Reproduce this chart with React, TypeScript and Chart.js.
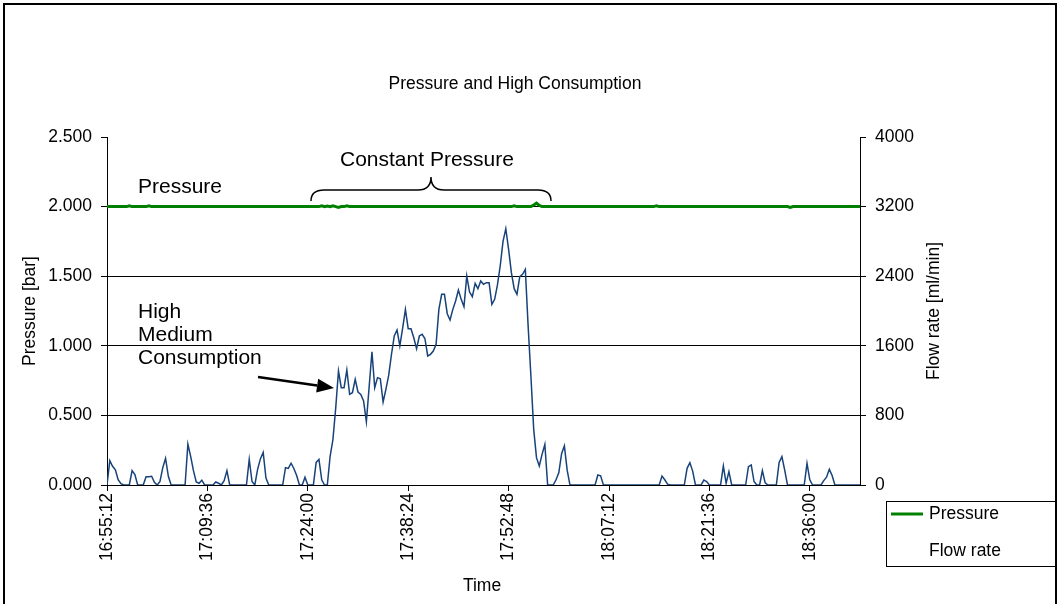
import { useEffect, useRef } from 'react';
import { Chart, registerables } from 'chart.js';

Chart.register(...registerables);

const FONT = '"Liberation Sans", Arial, Helvetica, sans-serif';

const TITLE = 'Pressure and High Consumption';
const X_TITLE = 'Time';
const Y_LEFT_TITLE = 'Pressure [bar]';
const Y_RIGHT_TITLE = 'Flow rate [ml/min]';

// one sample every 24 s, starting 16:55:12
const SAMPLE_SECONDS = 24;
const SAMPLES_PER_TICK = 36;
const X_TICK_LABELS = ['16:55:12', '17:09:36', '17:24:00', '17:38:24', '17:52:48', '18:07:12', '18:21:36', '18:36:00'];
const X_MAX_SAMPLE = 270;

const PRESSURE_TICKS = [0, 0.5, 1, 1.5, 2, 2.5];
const FLOW_TICKS = [0, 800, 1600, 2400, 3200, 4000];

// Flow rate [ml/min]
const FLOW: number[] = [
  0, 280, 215, 175, 60, 15, 0, 0, 0, 165,
  120, 0, 0, 0, 96, 96, 100, 30, 0, 40,
  200, 305, 100, 0, 0, 0, 0, 0, 0, 470,
  330, 165, 35, 20, 55, 0, 0, 0, 0, 35,
  20, 0, 50, 165, 0, 0, 0, 0, 0, 0,
  0, 295, 40, 0, 180, 300, 375, 80, 0, 0,
  0, 0, 0, 0, 200, 190, 250, 190, 110, 0,
  0, 90, 0, 0, 0, 260, 295, 60, 0, 0,
  330, 520, 880, 1310, 1119, 1119, 1322, 1042, 1061, 1215,
  1069, 1042, 966, 728, 1130, 1532, 1119, 1234, 1222, 954,
  1100, 1260, 1500, 1713, 1782, 1598, 1800, 2019, 1797, 1797,
  1693, 1567, 1713, 1732, 1682, 1483, 1502, 1540, 1617, 2019,
  2192, 2192, 1969, 1897, 2019, 2115, 2241, 2134, 2050, 2402,
  2218, 2165, 2318, 2257, 2345, 2307, 2326, 2326, 2077, 2134,
  2300, 2520, 2800, 2946, 2709, 2441, 2257, 2192, 2395, 2421,
  2479, 1828, 1253, 640, 314, 218, 352, 467, 0, 0,
  0, 60, 140, 360, 450, 170, 0, 0, 0, 0,
  0, 0, 0, 0, 0, 0, 115, 105, 0, 0,
  0, 0, 0, 0, 0, 0, 0, 0, 0, 0,
  0, 0, 0, 0, 0, 0, 0, 0, 0, 103,
  60, 10, 0, 0, 0, 0, 0, 0, 192, 257,
  160, 0, 0, 0, 57, 40, 0, 0, 0, 0,
  0, 218, 20, 153, 0, 0, 0, 0, 0, 0,
  211, 230, 40, 0, 0, 165, 25, 0, 0, 0,
  0, 260, 326, 172, 0, 0, 0, 0, 0, 0,
  0, 249, 60, 0, 0, 0, 0, 50, 90, 180,
  110, 0, 0, 0, 0, 0, 0, 0, 0, 0,
  0,
];

// Pressure [bar]
const PRESSURE: number[] = [
  2, 2, 2, 2, 2, 2, 2, 2, 2.006, 2,
  2, 2, 2, 2, 2, 2.006, 2, 2, 2, 2,
  2, 2, 2, 2, 2, 2, 2, 2, 2, 2,
  2, 2, 2, 2, 2, 2, 2, 2, 2, 2,
  2, 2, 2, 2, 2, 2, 2, 2, 2, 2,
  2, 2, 2, 2, 2, 2, 2, 2, 2, 2,
  2, 2, 2, 2, 2, 2, 2, 2, 2, 2,
  2, 2, 2, 2, 2, 2, 2, 2.006, 2, 2.004,
  2, 2.006, 2, 1.994, 2, 2, 2.006, 2, 2, 2,
  2, 2, 2, 2, 2, 2, 2, 2, 2, 2,
  2, 2, 2, 2, 2, 2, 2, 2, 2, 2,
  2, 2, 2, 2, 2, 2, 2, 2, 2, 2,
  2, 2, 2, 2, 2, 2, 2, 2, 2, 2,
  2, 2, 2, 2, 2, 2, 2, 2, 2, 2,
  2, 2, 2, 2, 2, 2, 2.005, 2, 2, 2,
  2, 2, 2, 2.012, 2.025, 2.008, 2, 2, 2, 2,
  2, 2, 2, 2, 2, 2, 2, 2, 2, 2,
  2, 2, 2, 2, 2, 2, 2, 2, 2, 2,
  2, 2, 2, 2, 2, 2, 2, 2, 2, 2,
  2, 2, 2, 2, 2, 2, 2, 2.006, 2, 2,
  2, 2, 2, 2, 2, 2, 2, 2, 2, 2,
  2, 2, 2, 2, 2, 2, 2, 2, 2, 2,
  2, 2, 2, 2, 2, 2, 2, 2, 2, 2,
  2, 2, 2, 2, 2, 2, 2, 2, 2, 2,
  2, 2, 2, 2, 2, 1.994, 2, 2, 2, 2,
  2, 2, 2, 2, 2, 2, 2, 2, 2, 2,
  2, 2, 2, 2, 2, 2, 2, 2, 2, 2,
  2,
];

const PRESSURE_COLOR = '#008000';
const FLOW_COLOR = '#17427a';

const annotationPlugin = {
  id: 'annotations',
  afterDraw(chart: any) {
    const ctx: CanvasRenderingContext2D = chart.ctx;
    ctx.save();
    // outer frame
    ctx.strokeStyle = '#000';
    ctx.lineWidth = 2;
    ctx.strokeRect(4, 4, 1052, 720);

    ctx.fillStyle = '#000';
    ctx.font = `17.5px ${FONT}`;
    ctx.textAlign = 'center';
    ctx.textBaseline = 'middle';
    ctx.fillText(TITLE, 515, 84);
    ctx.fillText(X_TITLE, 482, 586);

    ctx.save();
    ctx.translate(30, 311);
    ctx.rotate(-Math.PI / 2);
    ctx.fillText(Y_LEFT_TITLE, 0, 0);
    ctx.restore();

    ctx.save();
    ctx.translate(934, 311);
    ctx.rotate(-Math.PI / 2);
    ctx.fillText(Y_RIGHT_TITLE, 0, 0);
    ctx.restore();

    // text annotations
    ctx.font = `21px ${FONT}`;
    ctx.textAlign = 'left';
    ctx.textBaseline = 'alphabetic';
    ctx.fillText('Pressure', 138, 193);
    ctx.fillText('Constant Pressure', 340, 166);
    ['High', 'Medium', 'Consumption'].forEach((t, k) => ctx.fillText(t, 138, 318 + k * 23));

    // curly brace
    ctx.strokeStyle = '#000';
    ctx.lineWidth = 1.5;
    ctx.beginPath();
    ctx.moveTo(311, 201);
    ctx.quadraticCurveTo(311, 190, 324, 190);
    ctx.lineTo(418, 190);
    ctx.quadraticCurveTo(431, 190, 431, 177);
    ctx.quadraticCurveTo(431, 190, 444, 190);
    ctx.lineTo(538, 190);
    ctx.quadraticCurveTo(551, 190, 551, 201);
    ctx.stroke();

    // arrow
    const sx = 258, sy = 377, tx = 334, ty = 388;
    const ang = Math.atan2(ty - sy, tx - sx);
    const headLen = 17, headHalf = 7;
    const bx = tx - headLen * Math.cos(ang), by = ty - headLen * Math.sin(ang);
    ctx.lineWidth = 2.5;
    ctx.beginPath();
    ctx.moveTo(sx, sy);
    ctx.lineTo(bx, by);
    ctx.stroke();
    ctx.beginPath();
    ctx.moveTo(tx, ty);
    ctx.lineTo(bx - headHalf * Math.sin(ang), by + headHalf * Math.cos(ang));
    ctx.lineTo(bx + headHalf * Math.sin(ang), by - headHalf * Math.cos(ang));
    ctx.closePath();
    ctx.fill();

    // legend
    ctx.lineWidth = 1;
    ctx.strokeStyle = '#000';
    ctx.strokeRect(886.5, 501.5, 169, 65);
    ctx.strokeStyle = PRESSURE_COLOR;
    ctx.lineWidth = 3;
    ctx.beginPath();
    ctx.moveTo(891, 514);
    ctx.lineTo(923, 514);
    ctx.stroke();
    ctx.font = `17.5px ${FONT}`;
    ctx.textBaseline = 'middle';
    ctx.fillStyle = '#000';
    ctx.fillText('Pressure', 929, 514);
    ctx.fillText('Flow rate', 929, 551);
    ctx.restore();
  },
};

export default function App() {
  const ref = useRef<HTMLCanvasElement>(null);

  useEffect(() => {
    if (!ref.current) return;
    const tickFont = { family: FONT, size: 17.5 };
    const chart = new Chart(ref.current, {
      type: 'line',
      data: {
        datasets: [
          {
            label: 'Pressure',
            data: PRESSURE.map((v, i) => ({ x: i * SAMPLE_SECONDS, y: v })),
            yAxisID: 'y',
            borderColor: PRESSURE_COLOR,
            borderWidth: 3,
            pointRadius: 0,
            tension: 0,
          },
          {
            label: 'Flow rate',
            data: FLOW.map((v, i) => ({ x: i * SAMPLE_SECONDS, y: v })),
            yAxisID: 'y1',
            borderColor: FLOW_COLOR,
            borderWidth: 1.5,
            pointRadius: 0,
            tension: 0,
          },
        ],
      },
      options: {
        responsive: false,
        animation: false,
        devicePixelRatio: 1,
        layout: { padding: { top: 137, left: 0, right: 0, bottom: 0 } },
        plugins: {
          legend: { display: false },
          title: { display: false },
          tooltip: { enabled: false },
        },
        scales: {
          x: {
            type: 'linear',
            min: 0,
            max: X_MAX_SAMPLE * SAMPLE_SECONDS,
            afterBuildTicks: (s: any) => {
              s.ticks = X_TICK_LABELS.map((_, k) => ({ value: k * SAMPLES_PER_TICK * SAMPLE_SECONDS }));
            },
            afterFit: (s: any) => {
              s.height = 119;
            },
            ticks: {
              autoSkip: false,
              minRotation: 90,
              maxRotation: 90,
              padding: 2,
              color: '#000',
              font: tickFont,
              callback: (_v: any, idx: number) => X_TICK_LABELS[idx],
            },
            grid: { drawOnChartArea: false, tickLength: 6, color: '#000', tickColor: '#000' },
            border: { color: '#000', width: 1 },
          },
          y: {
            type: 'linear',
            position: 'left',
            min: 0,
            max: 2.5,
            afterBuildTicks: (s: any) => {
              s.ticks = PRESSURE_TICKS.map((v) => ({ value: v }));
            },
            afterFit: (s: any) => {
              s.width = 107;
            },
            ticks: {
              padding: 9,
              color: '#000',
              font: tickFont,
              callback: (v: any) => Number(v).toFixed(3),
            },
            grid: {
              color: (c: any) => (c.tick && c.tick.value === 2.5 ? 'rgba(0,0,0,0)' : '#000'),
              tickColor: '#000',
              tickLength: 6,
              lineWidth: 1,
            },
            border: { color: '#000', width: 1 },
          },
          y1: {
            type: 'linear',
            position: 'right',
            min: 0,
            max: 4000,
            afterBuildTicks: (s: any) => {
              s.ticks = FLOW_TICKS.map((v) => ({ value: v }));
            },
            afterFit: (s: any) => {
              s.width = 199;
            },
            ticks: {
              padding: 9,
              color: '#000',
              font: tickFont,
              callback: (v: any) => String(v),
            },
            grid: { drawOnChartArea: false, tickLength: 6, color: '#000', tickColor: '#000' },
            border: { color: '#000', width: 1 },
          },
        },
      },
      plugins: [annotationPlugin],
    });
    return () => chart.destroy();
  }, []);

  return (
    <div style={{ position: 'absolute', left: 0, top: 0, width: 1059, height: 604, background: '#fff' }}>
      <canvas ref={ref} width={1059} height={604} style={{ display: 'block', width: 1059, height: 604 }} />
    </div>
  );
}
